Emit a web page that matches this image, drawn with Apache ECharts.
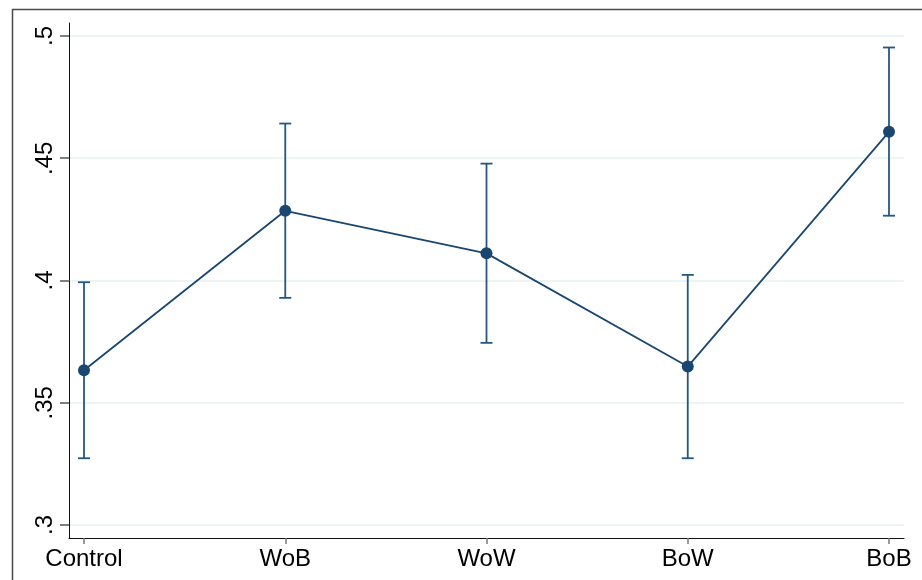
<!DOCTYPE html>
<html>
<head>
<meta charset="utf-8">
<script src="https://cdn.jsdelivr.net/npm/echarts@6/dist/echarts.min.js"></script>
<style>
  html, body { margin: 0; padding: 0; background: #ffffff; }
  #chart { width: 922px; height: 580px; }
</style>
</head>
<body>
<div id="chart"></div>
<script>
// Group labels along the x axis
const categories = ['Control', 'WoB', 'WoW', 'BoW', 'BoB'];
// Group means
const means = [0.3633, 0.4285, 0.4111, 0.3648, 0.4608];
// 95% confidence bounds
const lowerCI = [0.3273, 0.3929, 0.3745, 0.3273, 0.4265];
const upperCI = [0.3993, 0.4642, 0.4478, 0.4023, 0.4953];
// Y axis tick values and their printed labels
const yTicks = [0.3, 0.35, 0.4, 0.45, 0.5];
const yTickLabels = ['.3', '.35', '.4', '.45', '.5'];

const navy = '#1a476f';
const barColor = '#25577f';
const fontFamily = '"Liberation Sans", Arial, Helvetica, sans-serif';

const ciData = categories.map((c, i) => [i, lowerCI[i], upperCI[i]]);

function renderCap(params, api) {
  const lo = api.coord([api.value(0), api.value(1)]);
  const hi = api.coord([api.value(0), api.value(2)]);
  const half = 6;
  const style = { stroke: barColor, lineWidth: 1.8 };
  return {
    type: 'group',
    children: [
      { type: 'line', shape: { x1: hi[0], y1: hi[1], x2: lo[0], y2: lo[1] }, style },
      { type: 'line', shape: { x1: hi[0] - half, y1: hi[1], x2: hi[0] + half, y2: hi[1] }, style },
      { type: 'line', shape: { x1: lo[0] - half, y1: lo[1], x2: lo[0] + half, y2: lo[1] }, style }
    ]
  };
}

const chart = echarts.init(document.getElementById('chart'), null, { renderer: 'canvas' });

chart.setOption({
  animation: false,
  backgroundColor: '#ffffff',
  textStyle: { fontFamily },
  graphic: [{
    type: 'rect',
    left: 10, top: 7,
    shape: { width: 1000, height: 1000 },
    style: { fill: 'none', stroke: '#4a4a4a', lineWidth: 1.5 },
    silent: true
  }],
  grid: [
    // plot region outline (axis lines)
    { left: 69, right: 18, top: 23, bottom: 42 },
    // y scale with grid lines
    { left: 69, right: 18, top: 36, bottom: 55 },
    // category positions for the markers
    { left: 84, right: 33, top: 36, bottom: 55 }
  ],
  xAxis: [
    {
      gridIndex: 0, type: 'value', min: 0, max: 1,
      axisLine: { show: true, lineStyle: { color: '#111', width: 1 } },
      axisTick: { show: false }, axisLabel: { show: false }, splitLine: { show: false }
    },
    { gridIndex: 1, type: 'value', min: 0, max: 1, show: false },
    {
      gridIndex: 2, type: 'category', data: categories, boundaryGap: false,
      position: 'bottom', offset: 13,
      axisLine: { show: false },
      axisTick: { show: true, length: 6, lineStyle: { color: '#7a7a7a', width: 1.5 } },
      axisLabel: { color: '#000', fontSize: 24, margin: 9, fontFamily },
      splitLine: { show: false }
    }
  ],
  yAxis: [
    {
      gridIndex: 0, type: 'value', min: 0, max: 1,
      axisLine: { show: true, lineStyle: { color: '#111', width: 1 } },
      axisTick: { show: false }, axisLabel: { show: false }, splitLine: { show: false }
    },
    {
      gridIndex: 1, type: 'value', min: yTicks[0], max: yTicks[yTicks.length - 1], interval: 0.05,
      axisLine: { show: false },
      axisTick: { show: true, length: 9, lineStyle: { color: '#555', width: 1.5 } },
      axisLabel: {
        color: '#000', fontSize: 24, rotate: 90, margin: 12, fontFamily,
        formatter: (v) => {
          const k = yTicks.findIndex(t => Math.abs(t - v) < 1e-9);
          return k >= 0 ? yTickLabels[k] : '';
        }
      },
      splitLine: { show: true, lineStyle: { color: '#e6f0f3', width: 1.5 } }
    },
    {
      gridIndex: 2, type: 'value', min: yTicks[0], max: yTicks[yTicks.length - 1], show: false
    }
  ],
  series: [
    {
      type: 'custom',
      xAxisIndex: 2, yAxisIndex: 2,
      renderItem: renderCap,
      data: ciData,
      z: 2
    },
    {
      type: 'line',
      xAxisIndex: 2, yAxisIndex: 2,
      data: means,
      symbol: 'circle',
      symbolSize: 12,
      itemStyle: { color: navy },
      lineStyle: { color: navy, width: 1.8 },
      z: 3
    }
  ]
});
</script>
</body>
</html>
